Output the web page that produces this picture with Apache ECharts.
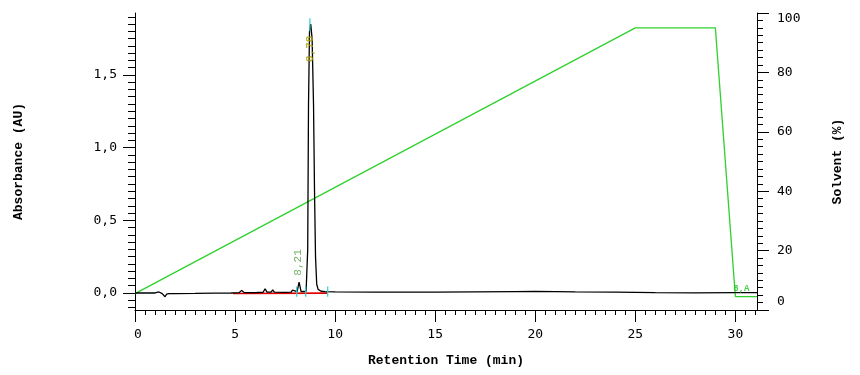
<!DOCTYPE html>
<html><head><meta charset="utf-8">
<script src="https://cdn.jsdelivr.net/npm/echarts@6/dist/echarts.min.js"></script>
<style>html,body{margin:0;padding:0;background:#fff}#c{width:860px;height:375px}</style>
</head><body><div id="c"></div>
<script>
// Absorbance trace (time in min, absorbance in AU)
const traceTime = [0, 0.5, 1.0, 1.2, 1.28, 1.36, 1.44, 1.5, 1.58, 1.7, 2, 3, 4, 4.8, 5.2, 5.33, 5.45, 6, 6.4, 6.5, 6.6, 6.8, 6.88, 6.96, 7.5, 7.8, 7.87, 7.94, 8.1, 8.2, 8.3, 8.55, 8.6, 8.63, 8.67, 8.72, 8.78, 8.85, 8.92, 8.97, 9.02, 9.08, 9.15, 9.3, 9.5, 10, 12, 15, 17, 19, 20, 22, 24, 26, 28, 30, 31.08];
const traceAbs  = [0, 0, 0.0, 0.007, 0.0, -0.004, -0.012, -0.026, -0.008, -0.004, -0.004, -0.003, -0.001, 0.0, 0.002, 0.018, 0.003, 0.002, 0.005, 0.028, 0.006, 0.006, 0.022, 0.006, 0.004, 0.006, 0.02, 0.008, 0.01, 0.075, 0.01, 0.012, 0.02, 0.3, 1.3, 1.8, 1.85, 1.75, 1.3, 0.7, 0.25, 0.06, 0.025, 0.012, 0.01, 0.007, 0.006, 0.006, 0.008, 0.01, 0.011, 0.008, 0.006, 0.003, 0.001, 0.002, 0.002];
// Solvent gradient (time, %)
const gradTime = [0, 25, 29, 30, 31.08];
const gradPct  = [5.5, 95, 95, 4.5, 4.5];
// Integration baseline
const baseTime = [4.9, 9.6];
const baseAbs  = [-0.004, -0.001];
// Peak event markers (time) and their extents
const markerTime = [8.08, 8.53, 9.63];
const markerLow = -0.025, markerHigh = 0.045;
// Peak labels
const peakLabels = [
  {t: 8.15, a: 0.21, text: '8,21', color: '#4c9a3c', bold: false},
  {t: 8.78, a: 1.68, text: '8,78', color: '#a8a000', bold: true}
];
const endLabel = {t: 30.3, a: 0.028, text: '8,A'};
// Axis ranges and ticks
const xMin = 0, xMax = 31.08;
const xMajor = [0, 5, 10, 15, 20, 25, 30];
const absMin = -0.117, absMax = 1.926;
const absMajor = [0, 0.5, 1.0, 1.5];
const solMajor = [0, 20, 40, 60, 80, 100];

const range = (a, b, s) => { const r = []; for (let v = a; v <= b + 1e-9; v += s) r.push(+v.toFixed(4)); return r; };
const xMinor = range(0, 31, 0.5);
const absMinor = range(-0.1, 1.9, 0.05);
const solMinor = range(0, 100, 2.5);

const monoLabel = {fontFamily: 'DejaVu Sans Mono', fontSize: 13, color: '#000'};
const nameStyle = {fontFamily: 'Liberation Mono', fontSize: 13, fontWeight: 'bold', color: '#000'};
const line = {lineStyle: {color: '#000', width: 1}};

const chart = echarts.init(document.getElementById('c'), null, {renderer: 'canvas'});
const series = [
  {type: 'line', xAxisIndex: 0, yAxisIndex: 1, data: gradTime.map((t, i) => [t, gradPct[i]]), showSymbol: false, lineStyle: {color: '#2ed12e', width: 1.3}, z: 2, animation: false},
  {type: 'line', xAxisIndex: 0, yAxisIndex: 0, data: baseTime.map((t, i) => [t, baseAbs[i]]), showSymbol: false, lineStyle: {color: '#e00000', width: 1.6}, z: 3, animation: false},
  {type: 'line', xAxisIndex: 0, yAxisIndex: 0, data: traceTime.map((t, i) => [t, traceAbs[i]]), showSymbol: false, lineStyle: {color: '#000', width: 1.3}, z: 4, animation: false},
];
markerTime.forEach(t => series.push({type: 'line', xAxisIndex: 0, yAxisIndex: 0, data: [[t, markerLow], [t, markerHigh]], showSymbol: false, lineStyle: {color: '#33cccc', width: 1.2}, z: 5, animation: false}));
series.push({type: 'line', xAxisIndex: 0, yAxisIndex: 0, data: [[8.74, 1.80], [8.74, 1.89]], showSymbol: false, lineStyle: {color: '#33cccc', width: 1.2}, z: 5, animation: false});
series.push({type: 'scatter', xAxisIndex: 0, yAxisIndex: 0, symbolSize: 0, z: 6, animation: false,
  data: peakLabels.map(p => ({value: [p.t, p.a], label: {show: true, formatter: p.text, rotate: 90, color: p.color, fontFamily: 'Liberation Mono', fontSize: 11, fontWeight: p.bold ? 'bold' : 'normal', position: 'inside'}}))});
series.push({type: 'scatter', xAxisIndex: 0, yAxisIndex: 0, symbolSize: 0, z: 6, animation: false,
  data: [{value: [endLabel.t, endLabel.a], label: {show: true, formatter: endLabel.text, color: '#22c022', fontFamily: 'Liberation Mono', fontSize: 9, fontWeight: 'bold', position: 'inside'}}]});

chart.setOption({
  backgroundColor: '#fff',
  animation: false,
  grid: {left: 135, right: 103, top: 13, bottom: 65, containLabel: false},
  xAxis: [
    {type: 'value', min: xMin, max: xMax, position: 'bottom',
     name: 'Retention Time (min)', nameLocation: 'middle', nameGap: 44, nameTextStyle: nameStyle,
     axisLine: {show: true, onZero: false, ...line},
     axisTick: {show: true, customValues: xMajor, length: 12, ...line},
     axisLabel: {customValues: xMajor, margin: 18, ...monoLabel, showMinLabel: true, showMaxLabel: true,
       formatter: v => v === 0 ? '{s|0}' : String(v), rich: {s: {padding: [0, 0, 0, 6], fontFamily: 'DejaVu Sans Mono', fontSize: 13}}},
     splitLine: {show: false}},
    {type: 'value', min: xMin, max: xMax, position: 'bottom',
     axisLine: {show: false, onZero: false},
     axisTick: {show: true, customValues: xMinor, length: 5, ...line},
     axisLabel: {show: false}, splitLine: {show: false}}
  ],
  yAxis: [
    {type: 'value', min: absMin, max: absMax, position: 'left',
     name: 'Absorbance (AU)', nameLocation: 'middle', nameGap: 110, nameRotate: 90, nameTextStyle: nameStyle,
     axisLine: {show: true, onZero: false, ...line},
     axisTick: {show: true, customValues: absMajor, length: 12, ...line},
     axisLabel: {customValues: absMajor, margin: 18, ...monoLabel, formatter: v => v.toFixed(1).replace('.', ',')},
     splitLine: {show: false}},
    {type: 'value', min: 0, max: 100, position: 'right',
     name: 'Solvent (%)', nameLocation: 'middle', nameGap: 74, nameRotate: 90, nameTextStyle: nameStyle,
     axisLine: {show: true, onZero: false, ...line},
     axisTick: {show: true, customValues: solMajor, length: 12, ...line},
     axisLabel: {customValues: solMajor, margin: 20, ...monoLabel,
       formatter: v => v === 100 ? '{d|100}' : (v === 0 ? '{u|0}' : String(v)),
       rich: {d: {padding: [12, 0, 0, 0], fontFamily: 'DejaVu Sans Mono', fontSize: 13},
              u: {padding: [0, 0, 16, 0], fontFamily: 'DejaVu Sans Mono', fontSize: 13}}},
     splitLine: {show: false}},
    {type: 'value', min: absMin, max: absMax, position: 'left',
     axisLine: {show: false, onZero: false},
     axisTick: {show: true, customValues: absMinor, length: 7, ...line},
     axisLabel: {show: false}, splitLine: {show: false}},
    {type: 'value', min: 0, max: 100, position: 'right',
     axisLine: {show: false, onZero: false},
     axisTick: {show: true, customValues: solMinor, length: 6, ...line},
     axisLabel: {show: false}, splitLine: {show: false}}
  ],
  series: series
});
</script></body></html>
